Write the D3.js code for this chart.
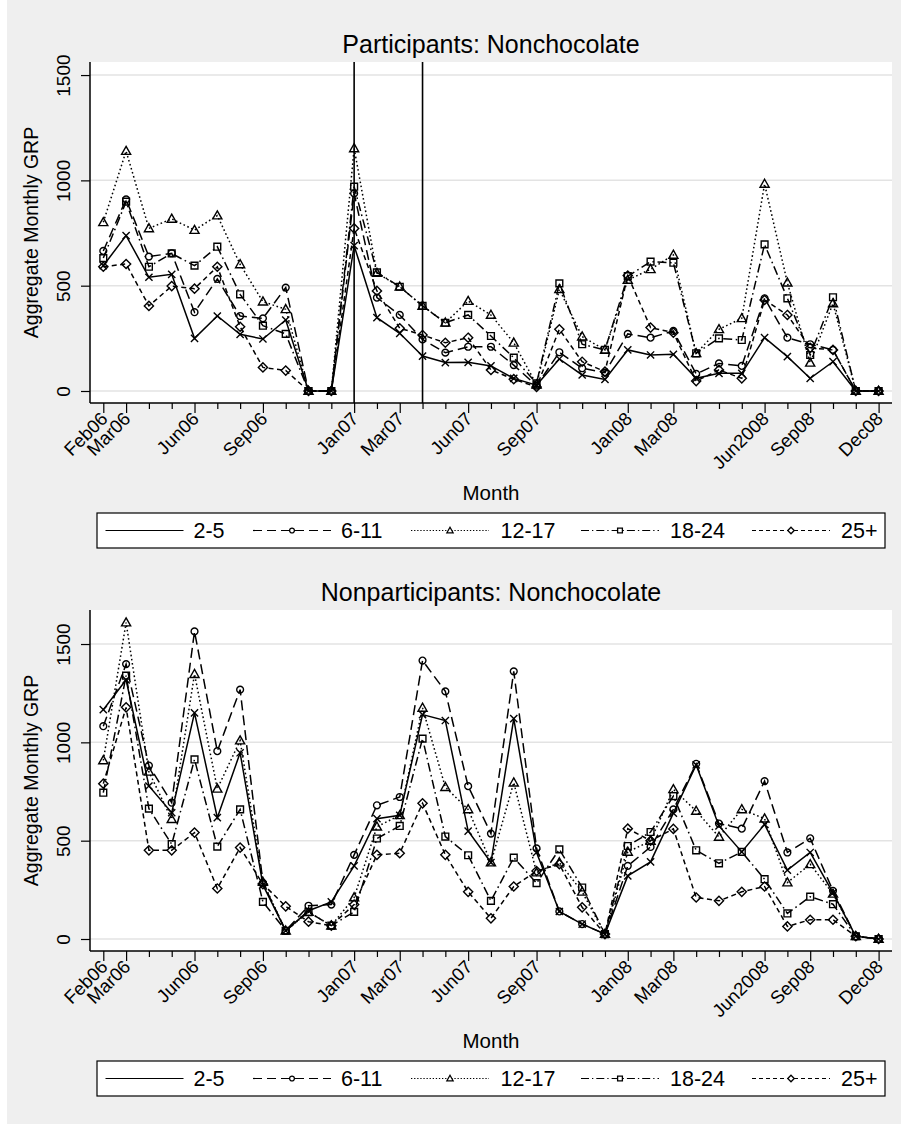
<!DOCTYPE html>
<html>
<head>
<meta charset="utf-8">
<script src="https://cdn.jsdelivr.net/npm/d3@7"></script>
<style>
  html, body { margin: 0; padding: 0; background: #fff; }
  svg { display: block; font-family: "Liberation Sans", Arial, Helvetica, sans-serif; }
</style>
</head>
<body>
<svg id="chart" width="901" height="1124"></svg>
<script>
// ---- data -------------------------------------------------------------
const months = ["Feb06","Mar06","Apr06","May06","Jun06","Jul06","Aug06","Sep06","Oct06","Nov06","Dec06",
  "Jan07","Feb07","Mar07","Apr07","May07","Jun07","Jul07","Aug07","Sep07","Oct07","Nov07","Dec07",
  "Jan08","Feb08","Mar08","Apr08","May08","Jun08","Jul08","Aug08","Sep08","Oct08","Nov08","Dec08"];

// labelled ticks on the month axis
const tickMonths = ["Feb06","Mar06","Jun06","Sep06","Jan07","Mar07","Jun07","Sep07","Jan08","Mar08","Jul08","Sep08","Dec08"];
const tickLabels = ["Feb06","Mar06","Jun06","Sep06","Jan07","Mar07","Jun07","Sep07","Jan08","Mar08","Jun2008","Sep08","Dec08"];

const yTicks = [0, 500, 1000, 1500];
const ageGroups = ["2-5", "6-11", "12-17", "18-24", "25+"];

// reference lines on the participants panel
const eventMonths = ["Jan07", "Apr07"];

// Participants: aggregate monthly GRP by age group
const part_2_5   = [595, 738, 540, 554, 250, 356, 269, 247, 337, 0, 0, 690, 348, 274, 166, 135, 136, 119, 60, 28, 152, 76, 55, 195, 171, 174, 60, 84, 84, 253, 163, 60, 139, 0, 0];
const part_6_11  = [665, 910, 638, 654, 374, 532, 356, 345, 491, 0, 0, 938, 443, 361, 245, 182, 210, 210, 123, 25, 184, 108, 87, 271, 253, 285, 81, 131, 119, 440, 253, 222, 195, 0, 0];
const part_12_17 = [801, 1139, 772, 817, 764, 833, 601, 424, 388, 0, 0, 1152, 560, 495, 404, 324, 427, 361, 229, 30, 483, 258, 195, 527, 578, 646, 179, 293, 345, 983, 514, 134, 416, 0, 0];
const part_18_24 = [631, 899, 590, 653, 595, 685, 459, 310, 271, 0, 0, 970, 563, 495, 404, 324, 361, 261, 158, 36, 511, 222, 195, 545, 614, 609, 179, 250, 242, 696, 440, 171, 445, 0, 0];
const part_25p   = [590, 603, 404, 498, 486, 590, 305, 112, 97, 0, 0, 772, 475, 298, 266, 229, 253, 100, 56, 19, 293, 139, 92, 548, 301, 277, 47, 100, 60, 432, 361, 205, 195, 0, 0];

// Nonparticipants: aggregate monthly GRP by age group
const nonp_2_5   = [1166, 1318, 778, 642, 1150, 617, 947, 275, 42, 144, 189, 372, 612, 629, 1141, 1111, 549, 389, 1121, 440, 140, 76, 25, 321, 392, 640, 885, 575, 443, 583, 350, 440, 235, 14, 0];
const nonp_6_11  = [1082, 1398, 882, 693, 1564, 955, 1268, 285, 42, 169, 175, 428, 680, 722, 1416, 1259, 777, 536, 1361, 461, 140, 76, 25, 372, 468, 659, 891, 587, 561, 803, 440, 512, 245, 14, 0];
const nonp_12_17 = [908, 1609, 850, 609, 1347, 764, 1009, 290, 42, 137, 68, 211, 571, 629, 1175, 772, 659, 389, 795, 338, 389, 240, 25, 443, 498, 761, 651, 519, 659, 612, 287, 380, 230, 14, 0];
const nonp_18_24 = [744, 1339, 663, 482, 913, 470, 659, 189, 42, 137, 68, 138, 511, 575, 1019, 521, 426, 194, 414, 284, 456, 262, 25, 473, 544, 727, 451, 385, 443, 304, 130, 215, 177, 14, 0];
const nonp_25p   = [790, 1178, 451, 451, 541, 257, 465, 279, 166, 88, 68, 175, 428, 436, 690, 428, 240, 105, 267, 346, 380, 161, 25, 561, 500, 560, 211, 194, 240, 267, 64, 98, 98, 14, 0];

// ---- styling ----------------------------------------------------------
const lineStyles = {
  "2-5":   { dash: null,            marker: "x" },
  "6-11":  { dash: "10,5",          marker: "circle" },
  "12-17": { dash: "1.6,2.6",       marker: "triangle" },
  "18-24": { dash: "9,3.5,1.6,3.5", marker: "square" },
  "25+":   { dash: "5,3.5",         marker: "diamond" }
};
const legendDash = {
  "2-5": null, "6-11": "9,5", "12-17": "1.3,1.8", "18-24": "8,3,1.3,3", "25+": "4,3"
};

function markerPath(type, s) {
  switch (type) {
    case "x": return `M${-s},${-s}L${s},${s}M${-s},${s}L${s},${-s}`;
    case "circle": {
      const r = s;
      return `M${r},0A${r},${r} 0 1,1 ${-r},0A${r},${r} 0 1,1 ${r},0Z`;
    }
    case "triangle": return `M0,${-s * 1.35}L${s * 1.3},${s * 0.95}L${-s * 1.3},${s * 0.95}Z`;
    case "square": return `M${-s},${-s}H${s}V${s}H${-s}Z`;
    case "diamond": return `M0,${-s * 1.35}L${s * 1.35},0L0,${s * 1.35}L${-s * 1.35},0Z`;
  }
}
const markerSize = { x: 3.6, circle: 3.4, triangle: 3.5, square: 3.4, diamond: 3.4 };

const svg = d3.select("#chart");
const W = 901, H = 1124;

// graph region background
svg.append("rect").attr("x", 7).attr("y", 0).attr("width", W - 7).attr("height", H).attr("fill", "#efefef");

const plotLeft = 90, plotRight = 892, plotTop = 62, plotBottom = 403;
const x = d3.scalePoint().domain(months).range([103.3, 878.6]);

function drawPanel(cfg) {
  const g = svg.append("g").attr("transform", `translate(0,${cfg.offset})`);
  const y = d3.scaleLinear().domain(cfg.yDomain).range([plotBottom, plotTop]);

  // title
  g.append("text")
    .attr("x", (plotLeft + plotRight) / 2).attr("y", 53)
    .attr("text-anchor", "middle").attr("font-size", 25).attr("fill", "#000")
    .text(cfg.title);

  // plot region
  g.append("rect")
    .attr("x", plotLeft).attr("y", plotTop)
    .attr("width", plotRight - plotLeft).attr("height", plotBottom - plotTop)
    .attr("fill", "#fff");

  // horizontal grid
  g.append("g").selectAll("line").data(yTicks).join("line")
    .attr("x1", plotLeft).attr("x2", plotRight)
    .attr("y1", d => y(d)).attr("y2", d => y(d))
    .attr("stroke", "#e3e3e3").attr("stroke-width", 1.5);

  // event lines
  if (cfg.events) {
    g.append("g").selectAll("line").data(cfg.events).join("line")
      .attr("x1", d => x(d)).attr("x2", d => x(d))
      .attr("y1", plotTop).attr("y2", plotBottom)
      .attr("stroke", "#000").attr("stroke-width", 1.6);
  }

  // series
  const line = d3.line().x((d, i) => x(months[i])).y(d => y(d));
  cfg.series.forEach((vals, k) => {
    const st = lineStyles[ageGroups[k]];
    const sg = g.append("g");
    sg.append("path").datum(vals)
      .attr("d", line)
      .attr("fill", "none").attr("stroke", "#000").attr("stroke-width", 1.5)
      .attr("stroke-dasharray", st.dash);
    sg.selectAll("path.mk").data(vals).join("path")
      .attr("class", "mk")
      .attr("transform", (d, i) => `translate(${x(months[i])},${y(d)})`)
      .attr("d", markerPath(st.marker, markerSize[st.marker]))
      .attr("fill", "none").attr("stroke", "#000").attr("stroke-width", 1.4);
  });

  // y axis
  const yAxis = d3.axisLeft(y).tickValues(yTicks).tickSize(9).tickSizeOuter(0)
    .tickFormat(d3.format("d"));
  const ya = g.append("g").attr("transform", `translate(${plotLeft},0)`).call(yAxis)
    .attr("font-family", null).attr("font-size", null);
  ya.select(".domain").remove();
  ya.selectAll(".tick line").attr("stroke", "#000").attr("stroke-width", 1.2);
  ya.selectAll(".tick text")
    .attr("x", 0).attr("dy", 0).attr("y", -20)
    .attr("transform", "rotate(-90)")
    .attr("text-anchor", "middle")
    .attr("font-size", 19).attr("fill", "#000");
  g.append("line").attr("x1", plotLeft).attr("x2", plotLeft)
    .attr("y1", plotTop).attr("y2", plotBottom)
    .attr("stroke", "#000").attr("stroke-width", 1.5);

  // x axis
  const xAxis = d3.axisBottom(x).tickValues(months).tickSize(6).tickSizeOuter(0)
    .tickFormat(m => { const j = tickMonths.indexOf(m); return j >= 0 ? tickLabels[j] : ""; });
  const xa = g.append("g").attr("transform", `translate(0,${plotBottom})`).call(xAxis)
    .attr("font-family", null).attr("font-size", null);
  xa.select(".domain").remove();
  xa.selectAll(".tick line").attr("stroke", "#000").attr("stroke-width", 1.2)
    .attr("y2", m => tickMonths.includes(m) ? 10 : 6);
  xa.selectAll(".tick text")
    .attr("x", 0).attr("y", 0).attr("dy", 0)
    .attr("transform", "translate(5,17) rotate(-45)")
    .attr("text-anchor", "end")
    .attr("font-size", 18.5).attr("fill", "#000");
  g.append("line").attr("x1", plotLeft).attr("x2", plotRight)
    .attr("y1", plotBottom).attr("y2", plotBottom)
    .attr("stroke", "#000").attr("stroke-width", 1.5);

  // axis titles
  g.append("text")
    .attr("transform", `translate(38,${(plotTop + plotBottom) / 2}) rotate(-90)`)
    .attr("text-anchor", "middle").attr("font-size", 19.5).attr("fill", "#000")
    .text("Aggregate Monthly GRP");
  g.append("text")
    .attr("x", (plotLeft + plotRight) / 2).attr("y", 500)
    .attr("text-anchor", "middle").attr("font-size", 20.5).attr("fill", "#000")
    .text("Month");

  // legend
  const lg = g.append("g").attr("transform", "translate(0,513)");
  lg.append("rect").attr("x", 97).attr("y", 0).attr("width", 788).attr("height", 35)
    .attr("fill", "#fff").attr("stroke", "#000").attr("stroke-width", 1.2);
  const keyX = [105.5, 253, 411, 581, 752];
  const textX = [193.5, 341, 500.5, 670, 841];
  ageGroups.forEach((grp, k) => {
    const st = lineStyles[grp];
    lg.append("line").attr("x1", keyX[k]).attr("x2", keyX[k] + 78)
      .attr("y1", 17.5).attr("y2", 17.5)
      .attr("stroke", "#000").attr("stroke-width", 1.2)
      .attr("stroke-dasharray", legendDash[grp]);
    if (grp !== "2-5") {
      lg.append("path")
        .attr("transform", `translate(${keyX[k] + 39},17.5)`)
        .attr("d", markerPath(st.marker, 2.4))
        .attr("fill", "#fff").attr("stroke", "#000").attr("stroke-width", 1.3);
    }
    lg.append("text").attr("x", textX[k]).attr("y", 25.3)
      .attr("font-size", 21.5).attr("fill", "#000").text(grp);
  });
}

drawPanel({
  title: "Participants: Nonchocolate",
  offset: 0,
  yDomain: [-57, 1562],
  events: eventMonths,
  series: [part_2_5, part_6_11, part_12_17, part_18_24, part_25p]
});

drawPanel({
  title: "Nonparticipants: Nonchocolate",
  offset: 548,
  yDomain: [-61, 1673],
  events: null,
  series: [nonp_2_5, nonp_6_11, nonp_12_17, nonp_18_24, nonp_25p]
});
</script>
</body>
</html>
